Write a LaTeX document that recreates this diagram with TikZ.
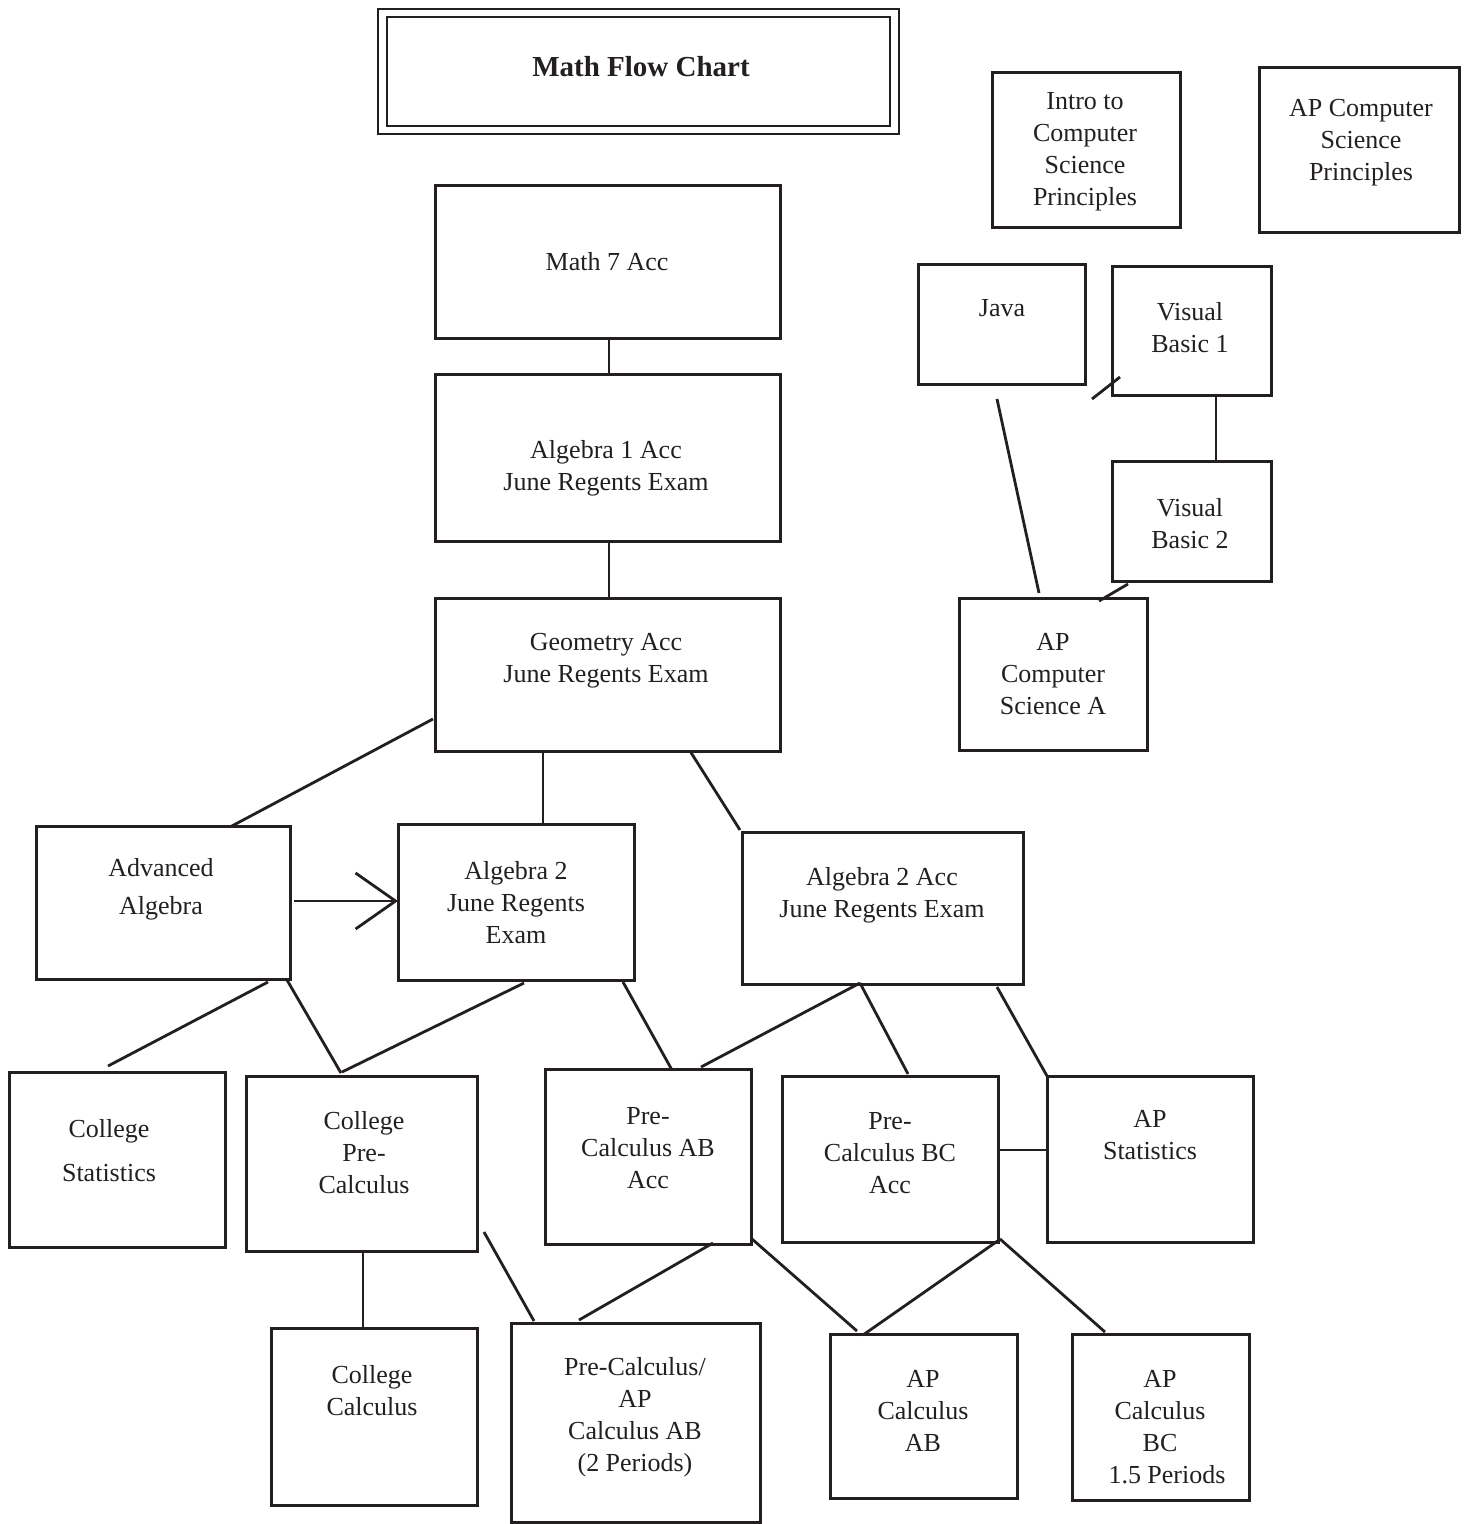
\documentclass[tikz,border=0pt]{standalone}
\usepackage{fontspec}
\setmainfont{Liberation Serif}
\usetikzlibrary{calc,arrows.meta}
\definecolor{ink}{HTML}{231F20}

% rectangle node given by its corner coordinates: name, x1, y1, x2, y2, style
\newcommand\crsbox[6]{%
  \node[#6,minimum width={(#4-#2)*1pt},minimum height={(#5-#3)*1pt}]
    (#1) at ({(#2+#4)/2},{(#3+#5)/2}) {};}

\begin{document}
\begin{tikzpicture}[x=1pt,y=-1pt,
  course/.style={draw=ink,line width=3pt,rectangle,inner sep=0pt,outer sep=0pt},
  framebox/.style={draw=ink,line width=2pt,rectangle,inner sep=0pt,outer sep=0pt},
  lbl/.style={align=center,font=\fontsize{26}{32}\selectfont,text=ink,inner sep=0pt},
  headlbl/.style={font=\fontsize{29}{34}\selectfont\bfseries,text=ink,inner sep=0pt},
  link/.style={draw=ink,line width=2.8pt},
  prereq/.style={link,-{Straight Barb[length=40pt,width=56pt]}}]

\useasboundingbox (0,0) rectangle (1468,1524);

% heading
\crsbox{title-outer}{378}{9}{899}{134}{framebox}
\crsbox{title-inner}{387}{17}{890}{126}{framebox}
\node[headlbl] (title) at (641,67) {Math Flow Chart};

% computer science courses
\crsbox{intro}{992}{72}{1180}{227}{course}
\node[lbl] (intro-t) at (1085,152) {Intro to\\Computer\\Science\\Principles};
\crsbox{apcsp}{1259}{67}{1459}{232}{course}
\node[lbl] (apcsp-t) at (1361,143) {AP Computer\\Science\\Principles};
\crsbox{java}{918}{264}{1085}{384}{course}
\node[lbl] (java-t) at (1002,308) {Java};
\crsbox{vb1}{1112}{266}{1271}{395}{course}
\node[lbl] (vb1-t) at (1190,328) {Visual\\Basic 1};
\crsbox{vb2}{1112}{461}{1271}{581}{course}
\node[lbl] (vb2-t) at (1190,524) {Visual\\Basic 2};
\crsbox{apcsa}{959}{598}{1147}{750}{course}
\node[lbl] (apcsa-t) at (1053,674) {AP\\Computer\\Science A};

% main sequence
\crsbox{math7}{435}{185}{780}{338}{course}
\node[lbl] (math7-t) at (607,262) {Math 7 Acc};
\crsbox{alg1}{435}{374}{780}{541}{course}
\node[lbl] (alg1-t) at (606,468) {Algebra 1 Acc\\June Regents Exam};
\crsbox{geo}{435}{598}{780}{751}{course}
\node[lbl] (geo-t) at (606,661) {Geometry Acc\\June Regents Exam};

% third level
\crsbox{advalg}{36}{826}{290}{979}{course}
\node[lbl] (advalg-t) at (161,889) {Advanced\\[6pt]Algebra};
\crsbox{alg2}{398}{824}{634}{980}{course}
\node[lbl] (alg2-t) at (516,903) {Algebra 2\\June Regents\\Exam};
\crsbox{alg2acc}{742}{832}{1023}{984}{course}
\node[lbl] (alg2acc-t) at (882,895) {Algebra 2 Acc\\June Regents Exam};

% fourth level
\crsbox{colstat}{9}{1072}{225}{1247}{course}
\node[lbl] (colstat-t) at (109,1151) {College\\[12pt]Statistics};
\crsbox{colpre}{246}{1076}{477}{1251}{course}
\node[lbl] (colpre-t) at (364,1153) {College\\Pre-\\Calculus};
\crsbox{preab}{545}{1069}{751}{1244}{course}
\node[lbl] (preab-t) at (648,1148) {Pre-\\Calculus AB\\Acc};
\crsbox{prebc}{782}{1076}{998}{1242}{course}
\node[lbl] (prebc-t) at (890,1153) {Pre-\\Calculus BC\\Acc};
\crsbox{apstat}{1047}{1076}{1253}{1242}{course}
\node[lbl] (apstat-t) at (1150,1135) {AP\\Statistics};

% fifth level
\crsbox{colcalc}{271}{1328}{477}{1505}{course}
\node[lbl] (colcalc-t) at (372,1391) {College\\Calculus};
\crsbox{preap}{511}{1323}{760}{1522}{course}
\node[lbl] (preap-t) at (635,1417) {Pre-Calculus/\\AP\\Calculus AB\\(2 Periods)};
\crsbox{apab}{830}{1334}{1017}{1498}{course}
\node[lbl] (apab-t) at (923,1411) {AP\\Calculus\\AB};
\crsbox{apbc}{1072}{1334}{1249}{1500}{course}
\node[lbl] (apbc-t) at (1160,1427) {AP\\Calculus\\BC\\\hspace*{14pt}1.5 Periods};

% loose ends of the short strokes
\coordinate (vb1-stub) at (1092,399);
\coordinate (vb2-stub) at (1099,601);

% connectors: computer science
\draw[link] ($(java.south west)+(79,15)$) -- ($(apcsa.north west)+(80,-5)$);
\draw[link] ($(vb1.south west)+(8,-18)$) -- (vb1-stub);
\draw[link] ($(vb1.south west)+(104,0)$) -- ($(vb2.north west)+(104,0)$);
\draw[link] ($(vb2.south west)+(16,3)$) -- (vb2-stub);

% connectors: main sequence
\draw[link] ($(math7.south west)+(174,0)$) -- ($(alg1.north west)+(174,0)$);
\draw[link] ($(alg1.south west)+(174,0)$) -- ($(geo.north west)+(174,0)$);
\draw[link] ($(geo.north west)+(-2,121)$) -- ($(advalg.north west)+(194,1)$);
\draw[link] ($(geo.south west)+(108,0)$) -- ($(alg2.north west)+(145,0)$);
\draw[link] ($(geo.south west)+(255,0)$) -- ($(alg2acc.north west)+(-2,-2)$);
\draw[prereq] ($(advalg.north east)+(4,75)$) -- ($(alg2.north west)+(0,77)$);

% connectors: third to fourth level
\draw[link] ($(advalg.south west)+(232,3)$) -- ($(colstat.north west)+(99,-6)$);
\draw[link] ($(advalg.south east)+(-3,1)$) -- ($(colpre.north west)+(95,-3)$);
\draw[link] ($(alg2.south west)+(126,3)$) -- ($(colpre.north west)+(96,-4)$);
\draw[link] ($(alg2.south west)+(225,2)$) -- ($(preab.north west)+(127,1)$);
\draw[link] ($(alg2acc.south west)+(118,-1)$) -- ($(preab.north west)+(156,-2)$);
\draw[link] ($(alg2acc.south west)+(118,-1)$) -- ($(prebc.north west)+(126,-2)$);
\draw[link] ($(alg2acc.south west)+(255,3)$) -- (apstat.north west);
\draw[link] ($(prebc.north east)+(0,74)$) -- ($(apstat.north west)+(0,74)$);

% connectors: fourth to fifth level
\draw[link] ($(colpre.south west)+(117,0)$) -- ($(colcalc.north west)+(92,0)$);
\draw[link] ($(colpre.south east)+(7,-19)$) -- ($(preap.north west)+(23,-2)$);
\draw[link] ($(preab.south west)+(168,-1)$) -- ($(preap.north west)+(68,-3)$);
\draw[link] ($(preab.south east)+(1,-5)$) -- ($(apab.north west)+(27,-3)$);
\draw[link] ($(prebc.south east)+(1,-2)$) -- ($(apab.north west)+(33,1)$);
\draw[link] ($(prebc.south east)+(2,-3)$) -- ($(apbc.north west)+(33,-2)$);
\end{tikzpicture}
\end{document}
